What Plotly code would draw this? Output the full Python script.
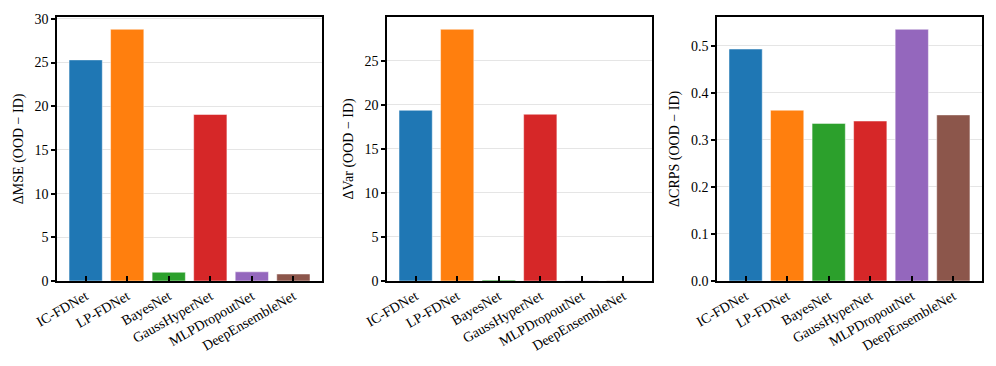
import plotly.graph_objects as go
from plotly.subplots import make_subplots

models = ["IC-FDNet", "LP-FDNet", "BayesNet", "GaussHyperNet", "MLPDropoutNet", "DeepEnsembleNet"]
colors = ["#1f77b4", "#ff7f0e", "#2ca02c", "#d62728", "#9467bd", "#8c564b"]

delta_mse = [25.3, 28.8, 1.0, 19.05, 1.05, 0.8]
delta_var = [19.37, 28.56, 0.1, 18.92, 0.02, 0.02]
delta_crps = [0.493, 0.363, 0.335, 0.340, 0.535, 0.353]

titles = ["ΔMSE (OOD − ID)", "ΔVar (OOD − ID)", "ΔCRPS (OOD − ID)"]
series = [delta_mse, delta_var, delta_crps]
y_ticks = [[0, 5, 10, 15, 20, 25, 30], [0, 5, 10, 15, 20, 25], [0, 0.1, 0.2, 0.3, 0.4, 0.5]]

FONT = "Liberation Serif, Times New Roman, serif"

fig = make_subplots(rows=1, cols=3)

# page has an 8px body margin, so domains are shifted up/left by that
x_domains = [[0.0492, 0.3153], [0.3805, 0.6466], [0.7118, 0.9779]]
y_domain = [0.2541, 0.9762]

for i, vals in enumerate(series):
    fig.add_trace(go.Bar(x=list(range(len(models))), y=vals,
                         marker=dict(color=colors, line=dict(color="rgba(255,255,255,0.6)", width=0.8)),
                         width=0.8, showlegend=False), row=1, col=i + 1)
    top = max(vals) * 1.05
    ax = "" if i == 0 else str(i + 1)
    fig.layout["xaxis" + ax].update(
        domain=x_domains[i], range=[-0.69, 5.69], automargin=False,
        tickvals=list(range(len(models))), ticktext=models, tickangle=-30,
        ticks="inside", ticklen=5, tickwidth=1.5, tickcolor="black",
        showline=True, linecolor="black", linewidth=1.5, mirror=True,
        showgrid=False, zeroline=False,
        tickfont=dict(family=FONT, size=14, color="black"))
    fig.layout["yaxis" + ax].update(
        domain=y_domain, range=[0, top], automargin=False,
        tickvals=y_ticks[i], ticktext=[("%.1f" % t) if i == 2 else str(t) for t in y_ticks[i]],
        ticks="outside", ticklen=4, tickwidth=1.5, tickcolor="black",
        showline=True, linecolor="black", linewidth=1.5, mirror=True,
        showgrid=True, gridcolor="#e5e5e5", gridwidth=1, zeroline=False,
        tickfont=dict(family=FONT, size=14, color="black"),
        title=dict(text=titles[i], font=dict(family=FONT, size=14, color="black"), standoff=8))

fig.update_layout(width=996, height=366, margin=dict(l=0, r=0, t=0, b=0),
                  plot_bgcolor="white", paper_bgcolor="white", bargap=0.2)

fig.write_html("out.html")
